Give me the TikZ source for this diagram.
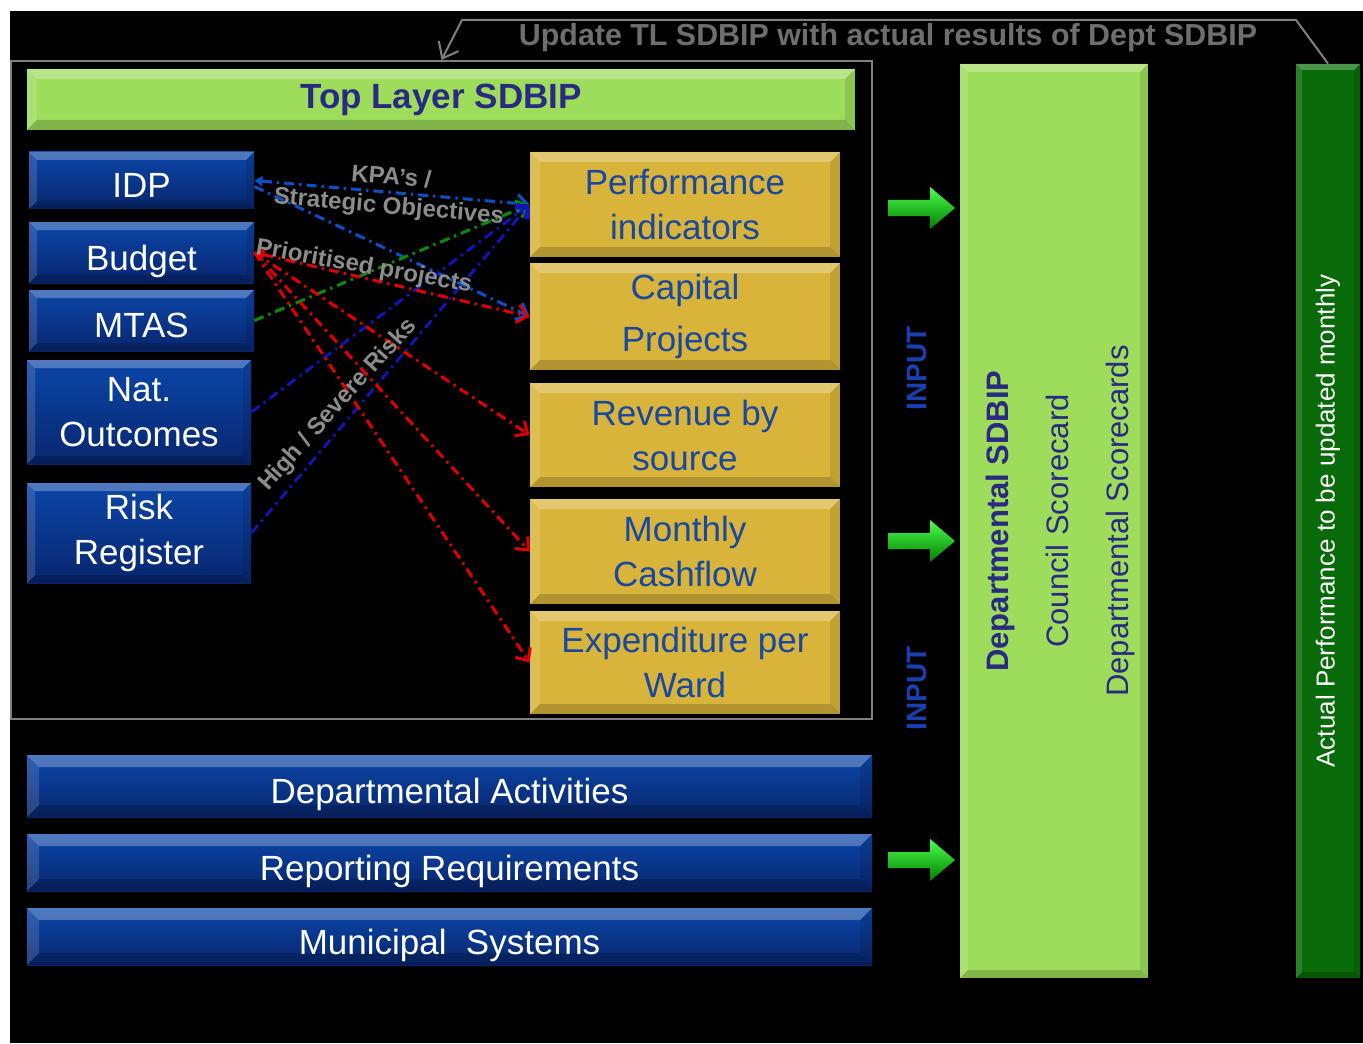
\documentclass[tikz,border=0pt]{standalone}
\usepackage{fontspec}
\setmainfont{Liberation Sans}
\usetikzlibrary{arrows.meta}

\definecolor{tlgreen}{HTML}{9EDC5B}
\definecolor{dkgreen}{HTML}{086A08}
\definecolor{gold}{HTML}{D8B43A}
\definecolor{bluetop}{HTML}{0B46A8}
\definecolor{bluebot}{HTML}{08266E}
\definecolor{navytext}{HTML}{2A2A82}
\definecolor{boxtext}{HTML}{1848A0}
\definecolor{inputblue}{HTML}{1A3FB0}
\definecolor{lblgray}{HTML}{8C8C8C}
\definecolor{upgray}{HTML}{6E6E6E}
\definecolor{lnblue}{HTML}{0A50C8}
\definecolor{lndark}{HTML}{1414B4}
\definecolor{lnred}{HTML}{E00000}
\definecolor{lngreen}{HTML}{0A8A0A}

\newcommand{\lowtext}[1]{\raisebox{-2.5pt}[\height][0pt]{#1}}

\begin{document}
\begin{tikzpicture}[x=0.5pt,y=-0.5pt,
    font=\fontsize{17.5}{22.5}\selectfont,
    bevel/.style={path picture={
        \coordinate (bNW) at (path picture bounding box.north west);
        \coordinate (bNE) at (path picture bounding box.north east);
        \coordinate (bSW) at (path picture bounding box.south west);
        \coordinate (bSE) at (path picture bounding box.south east);
        \fill[white,opacity=.28] (bNW) -- (bNE) -- ([shift={(-#1,-#1)}]bNE) -- ([shift={(#1,-#1)}]bNW) -- cycle;
        \fill[white,opacity=.14] (bNW) -- ([shift={(#1,-#1)}]bNW) -- ([shift={(#1,#1)}]bSW) -- (bSW) -- cycle;
        \fill[black,opacity=.18] (bSW) -- ([shift={(#1,#1)}]bSW) -- ([shift={(-#1,#1)}]bSE) -- (bSE) -- cycle;
        \fill[black,opacity=.10] (bSE) -- ([shift={(-#1,#1)}]bSE) -- ([shift={(-#1,-#1)}]bNE) -- (bNE) -- cycle;
    }},
    bluebox/.style={top color=bluetop, bottom color=bluebot, text=white, align=center,
        inner sep=0pt, minimum width=112.5pt, bevel=4pt},
    goldbox/.style={fill=gold, text=boxtext, align=center, inner sep=0pt,
        minimum width=155pt, bevel=5pt},
    bar/.style={top color=bluetop, bottom color=bluebot, text=white, inner sep=0pt,
        minimum width=422.5pt, bevel=6pt},
    link/.style={line width=1.5pt, dash pattern=on 5pt off 2.5pt on 1.2pt off 2.5pt,
        -{Straight Barb[length=5pt,width=9pt]}},
    lbl/.style={text=lblgray, font=\bfseries\fontsize{12}{14.5}\selectfont, align=center},
    inlbl/.style={text=inputblue, font=\bfseries\fontsize{14}{16}\selectfont, rotate=90},
    vtext/.style={rotate=90, align=center, inner sep=0pt}]

  \useasboundingbox (0,0) rectangle (1363,1043);
  \fill[black] (10,11) rectangle (1363,1043);

  % top layer frame
  \node[draw=gray, line width=1pt, minimum width=430.5pt, minimum height=329pt] (tlframe) at (441.5,390) {};
  \node[fill=tlgreen, text=navytext, font=\bfseries\fontsize{17.5}{20}\selectfont, inner sep=0pt,
        minimum width=414pt, minimum height=30.5pt, bevel=5pt] (toplayer) at (441,99.5) {Top Layer SDBIP};

  % inputs
  \node[bluebox, minimum height=28.5pt] (idp) at (141.5,180.5) {\lowtext{IDP}};
  \node[bluebox, minimum height=30.5pt] (budget) at (141.5,252.5) {\lowtext{Budget}};
  \node[bluebox, minimum height=30.5pt] (mtas) at (141.5,320.5) {\lowtext{MTAS}};
  \node[bluebox, minimum width=112pt, minimum height=52pt] (natout) at (139,412) {Nat.\\Outcomes};
  \node[bluebox, minimum width=112pt, minimum height=50pt] (risk) at (139,533) {Risk\\Register};

  % top layer contents
  \node[goldbox, minimum height=52.5pt] (perf) at (685,204.5) {Performance\\indicators};
  \node[goldbox, minimum height=53.5pt, font=\fontsize{17.5}{26}\selectfont] (capital) at (685,316.5) {Capital\\Projects};
  \node[goldbox, minimum height=52pt] (revenue) at (685,435) {Revenue by\\source};
  \node[goldbox, minimum height=52.5pt] (monthly) at (685,551.5) {Monthly\\Cashflow};
  \node[goldbox, minimum height=51.5pt] (expend) at (685,662.5) {Expenditure per\\Ward};

  \draw[link, lnblue, {Triangle[length=4pt,width=5pt]}-{Straight Barb[length=5pt,width=9pt]}] (idp.east) -- (perf.west);
  \draw[link, lnblue] ([yshift=-3pt]idp.east) -- (capital.west);
  \draw[link, lngreen] (mtas.east) -- (perf.west);
  \draw[link, lndark] (natout.east) -- (perf.west);
  \draw[link, lndark] (risk.east) -- (perf.west);
  \draw[link, lnred, {Triangle[length=5pt,width=6pt]}-{Straight Barb[length=5pt,width=9pt]}] (budget.east) -- (capital.west);
  \draw[link, lnred] (budget.east) -- (revenue.west);
  \draw[link, lnred] (budget.east) -- (monthly.west);
  \draw[link, lnred] (budget.east) -- (expend.west);

  \node[lbl, rotate=-5] (kpa) at (390,193) {KPA's /\\Strategic Objectives};
  \node[lbl, rotate=-10] (prio) at (364,267) {Prioritised projects};
  \node[lbl, rotate=48] (risks) at (338,405) {High / Severe Risks};

  % bottom bars
  \node[bar, minimum height=31pt] (deptact) at (449.5,786) {\lowtext{Departmental Activities}};
  \node[bar, minimum height=28.5pt] (reporting) at (449.5,862.5) {\lowtext{Reporting Requirements}};
  \node[bar, minimum height=28.5pt] (municipal) at (449.5,936.5) {\lowtext{Municipal\ \ Systems}};

  % departmental SDBIP
  \node[fill=tlgreen, inner sep=0pt, minimum width=94pt, minimum height=457pt, bevel=4pt] (dept) at (1054,521) {};
  \node[vtext, text=navytext, font=\fontsize{15.5}{30}\selectfont] (depttext) at ([xshift=3pt]dept.center)
        {{\bfseries\fontsize{15.5}{30}\selectfont Departmental SDBIP}\\Council Scorecard\\Departmental Scorecards};
  \node[fill=dkgreen, inner sep=0pt, minimum width=32pt, minimum height=457pt, bevel=3pt] (actual) at (1328,521) {};
  \node[vtext, text=white, font=\fontsize{13}{15}\selectfont] (actualtext) at (actual.center)
        {Actual Performance to be updated monthly};

  \foreach \y in {208,541,860}
    \fill[top color=green!70!white, bottom color=green!50!black]
      (888,\y-8) -- (930,\y-8) -- (930,\y-21) -- (955,\y) -- (930,\y+21) -- (930,\y+8) -- (888,\y+8) -- cycle;
  \node[inlbl] (input1) at (917,368) {INPUT};
  \node[inlbl] (input2) at (917,688) {INPUT};

  % update loop
  \draw[gray, line width=1pt, -{Straight Barb[length=7pt,width=11pt]}] (actual.north) -- (1296,20) -- (462,20) -- (tlframe.north);
  \node[text=upgray, font=\bfseries\fontsize{15.2}{17}\selectfont] (update) at (888,38) {Update TL SDBIP with\ actual results of Dept SDBIP};
\end{tikzpicture}
\end{document}
